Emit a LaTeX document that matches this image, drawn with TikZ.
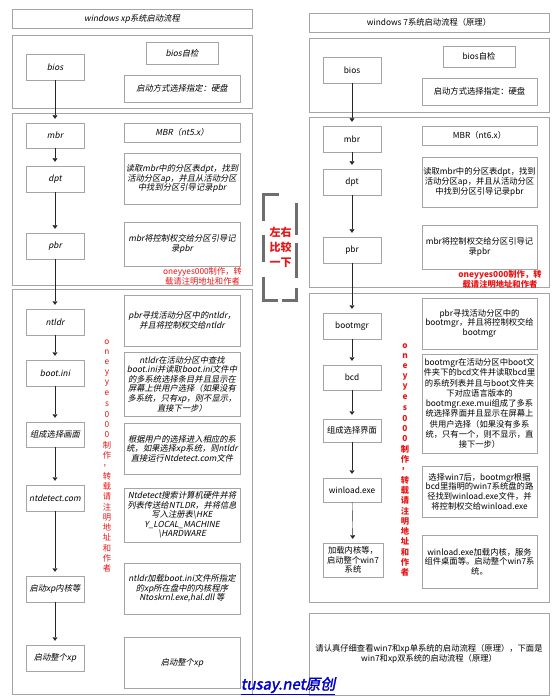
\documentclass[tikz,border=0pt]{standalone}
\usepackage{fontspec}
\setmainfont{Noto Sans CJK SC}
\newfontfamily\xpfont[FakeSlant=0.2]{Noto Sans CJK SC}
\newfontfamily\linkfont[FakeSlant=0.2,FakeBold=2]{Noto Sans CJK SC}
\usetikzlibrary{arrows.meta}
\definecolor{boxgray}{RGB}{165,165,165}
\definecolor{dashgray}{RGB}{110,110,110}
\definecolor{notered}{RGB}{235,20,20}
\definecolor{linkblue}{RGB}{0,0,205}
\tikzset{
  stepbox/.style={draw=boxgray,fill=white,align=center,inner sep=1pt,
    font=\fontsize{8.3}{9.6}\selectfont},
  xpbox/.style={stepbox,font=\fontsize{8.3}{9.6}\selectfont\xpfont},
  small/.style={minimum width=58pt,minimum height=26pt},
  wide/.style={minimum width=116pt},
  frame/.style={draw=boxgray},
  flow/.style={draw=black!85,-{Triangle[width=5pt,length=3.5pt]},shorten >=4pt},
  note/.style={text=notered,align=center,font=\fontsize{8.3}{10}\selectfont},
  bracket/.style={draw=dashgray,line width=3pt},
}
\begin{document}
\begin{tikzpicture}[x=1pt,y=-1pt]
  \useasboundingbox[fill=white] (0,0) rectangle (553,700);

  % windows xp
  \node[xpbox,minimum width=240pt,minimum height=19pt] (xtitle) at (132,18.5) {windows xp系统启动流程};
  \draw[frame] (12,35) rectangle (252,108);
  \draw[frame] (12,113) rectangle (252,285);
  \draw[frame] (12,289) rectangle (252,694);
  \node[xpbox,small] (xbios) at (55,67) {bios};
  \node[xpbox,minimum width=72pt,minimum height=22pt] (xself) at (182,53) {bios自检};
  \node[xpbox,wide,minimum height=27pt] (xdisk) at (182,88.5) {启动方式选择指定：硬盘};
  \node[xpbox,small,minimum height=25pt] (xmbr) at (55,135.5) {mbr};
  \node[xpbox,wide,minimum height=19pt] (xmbrinfo) at (182,132.5) {MBR（nt5.x）};
  \node[xpbox,small] (xdpt) at (55,179) {dpt};
  \node[xpbox,wide,minimum height=51pt,font=\fontsize{8.3}{8.4}\selectfont\xpfont] (xdptinfo) at (182,178.5)
    {读取mbr中的分区表dpt，找到\\活动分区ap，并且从活动分区\\中找到分区引导记录pbr};
  \node[xpbox,small] (xpbr) at (55,246) {pbr};
  \node[xpbox,wide,minimum height=44pt] (xpbrinfo) at (182,244) {mbr将控制权交给分区引导记\\录pbr};
  \node[note] (xnote) at (202.5,276) {oneyyes000制作，转\\载请注明地址和作者};
  \node[xpbox,small] (xntldr) at (55,322) {ntldr};
  \node[xpbox,wide,minimum height=51pt] (xntldrinfo) at (182,320.5) {pbr寻找活动分区中的ntldr，\\并且将控制权交给ntldr};
  \node[xpbox,small] (xboot) at (55,373) {boot.ini};
  \node[xpbox,wide,minimum height=64pt] (xbootinfo) at (182,384)
    {ntldr在活动分区中查找\\boot.ini并读取boot.ini文件中\\的多系统选择条目并且显示在\\屏幕上供用户选择（如果没有\\多系统，只有xp，则不显示，\\直接下一步）};
  \node[xpbox,small,minimum height=25pt] (xmenu) at (55,434.5) {组成选择画面};
  \node[xpbox,wide,minimum height=51pt] (xmenuinfo) at (182,448.5)
    {根据用户的选择进入相应的系\\统，如果选择xp系统，则ntldr\\直接运行Ntdetect.com文件};
  \node[xpbox,small] (xntdet) at (55,498) {ntdetect.com};
  \node[xpbox,wide,minimum height=54pt] (xntdetinfo) at (182,515)
    {Ntdetect搜索计算机硬件并将\\列表传送给NTLDR，并将信息\\写入注册表\textbackslash HKE\\Y\_LOCAL\_MACHINE\\\textbackslash HARDWARE};
  \node[xpbox,small] (xkernel) at (55,589) {启动xp内核等};
  \node[xpbox,wide,minimum height=51pt] (xkernelinfo) at (182,588.5)
    {ntldr加载boot.ini文件所指定\\的xp所在盘中的内核程序\\Ntoskrnl.exe,hal.dll 等};
  \node[xpbox,small] (xstart) at (55,658) {启动整个xp};
  \node[xpbox,wide,minimum height=51pt] (xstartinfo) at (182,662.5) {启动整个xp};
  \foreach \ch [count=\i from 0] in {o,n,e,y,y,e,s,0,0,0,制,作,，,转,载,请,注,明,地,址,和,作,者}
    \node[note,inner sep=0pt] (xv\i) at (107,342+10.3*\i) {\ch};
  \draw[flow] (xbios) -- (xmbr);
  \draw[flow] (xmbr) -- (xdpt);
  \draw[flow] (xdpt) -- (xpbr);
  \draw[flow] (xpbr) -- (xntldr);
  \draw[flow] (xntldr) -- (xboot);
  \draw[flow] (xboot) -- (xmenu);
  \draw[flow] (xmenu) -- (xntdet);
  \draw[flow] (xntdet) -- (xkernel);
  \draw[flow] (xkernel) -- (xstart);

  % compare mark
  \draw[bracket] (279,195) -- (263,195) -- (263,221);
  \draw[bracket] (263,235) -- (263,262);
  \draw[bracket] (263,277) -- (263,300) -- (278,300);
  \draw[bracket] (282,300) -- (296,300) -- (296,288);
  \draw[bracket] (296,278) -- (296,243);
  \draw[bracket] (296,235) -- (296,203);
  \node[text=notered,align=center,font=\fontsize{11}{15}\selectfont\bfseries] (cmp) at (280.5,247) {左右\\比较\\一下};

  % windows 7
  \node[stepbox,minimum width=240pt,minimum height=19pt] (wtitle) at (429,22.5) {windows 7系统启动流程（原理）};
  \draw[frame] (309,38) rectangle (549,112);
  \draw[frame] (309,117) rectangle (549,287);
  \draw[frame] (309,293) rectangle (549,602);
  \node[stepbox,small] (wbios) at (352,70) {bios};
  \node[stepbox,minimum width=72pt,minimum height=21pt] (wself) at (479,56.5) {bios自检};
  \node[stepbox,minimum width=115pt,minimum height=27pt] (wdisk) at (479.5,91.5) {启动方式选择指定：硬盘};
  \node[stepbox,small] (wmbr) at (352,139) {mbr};
  \node[stepbox,minimum width=115pt,minimum height=19pt] (wmbrinfo) at (479.5,135.5) {MBR（nt6.x）};
  \node[stepbox,small] (wdpt) at (352,182) {dpt};
  \node[stepbox,minimum width=115pt,minimum height=50pt] (wdptinfo) at (479.5,182)
    {读取mbr中的分区表dpt，找到\\活动分区ap，并且从活动分区\\中找到分区引导记录pbr};
  \node[stepbox,small] (wpbr) at (352,250) {pbr};
  \node[stepbox,minimum width=115pt,minimum height=44pt] (wpbrinfo) at (479.5,247) {mbr将控制权交给分区引导记\\录pbr};
  \node[note,font=\fontsize{8.3}{10}\selectfont\bfseries] (wnote) at (500,279) {oneyyes000制作，转\\载请注明地址和作者};
  \node[stepbox,small] (wbootmgr) at (352,326) {bootmgr};
  \node[stepbox,minimum width=115pt,minimum height=51pt] (wbootmgrinfo) at (479.5,323.5)
    {pbr寻找活动分区中的\\bootmgr，并且将控制权交给\\bootmgr};
  \node[stepbox,small,minimum height=25pt] (wbcd) at (352,377.5) {bcd};
  \node[stepbox,minimum width=115pt,minimum height=99pt,font=\fontsize{8.3}{10.3}\selectfont] (wbcdinfo) at (479.5,403.5)
    {bootmgr在活动分区中boot文\\件夹下的bcd文件并读取bcd里\\的系统列表并且与boot文件夹\\下对应语言版本的\\bootmgr.exe.mui组成了多系\\统选择界面并且显示在屏幕上\\供用户选择（如果没有多系\\统，只有一个，则不显示，直\\接下一步）};
  \node[stepbox,small,minimum height=23pt] (wmenu) at (352,430.5) {组成选择界面};
  \node[stepbox,minimum width=115pt,minimum height=51pt] (wloadinfo) at (479.5,491.5)
    {选择win7后，bootmgr根据\\bcd里指明的win7系统盘的路\\径找到winload.exe文件，并\\将控制权交给winload.exe};
  \node[stepbox,small,minimum height=24pt] (wwinload) at (352,490) {winload.exe};
  \node[stepbox,minimum width=60pt,minimum height=34pt] (wkernel) at (353,560) {加载内核等，\\启动整个win7\\系统};
  \node[stepbox,minimum width=115pt,minimum height=53pt] (wkernelinfo) at (479.5,561.5)
    {winload.exe加载内核，服务\\组件桌面等。启动整个win7系\\统。};
  \foreach \ch [count=\i from 0] in {o,n,e,y,y,e,s,0,0,0,制,作,，,转,载,请,注,明,地,址,和,作,者}
    \node[note,inner sep=0pt,font=\fontsize{8.3}{10}\selectfont\bfseries] (wv\i) at (405,346+10.3*\i) {\ch};
  \draw[flow] (wbios) -- (wmbr);
  \draw[flow] (wmbr) -- (wdpt);
  \draw[flow] (wdpt) -- (wpbr);
  \draw[flow] (wpbr) -- (wbootmgr);
  \draw[flow] (wbootmgr) -- (wbcd);
  \draw[flow] (wbcd) -- (wmenu);
  \draw[flow] (wmenu) -- (wwinload);
  \draw[flow] (wwinload) -- (wkernel);
  \node[stepbox,minimum width=240pt,minimum height=82pt,font=\fontsize{8.3}{9.3}\selectfont] (wsummary) at (429,654)
    {请认真仔细查看win7和xp单系统的启动流程（原理），下面是\\win7和xp双系统的启动流程（原理）};

  % source mark
  \node[text=linkblue,font=\fontsize{15}{15}\selectfont\linkfont,inner sep=0pt] (link) at (288,686) {\underline{tusay.net原创}};
\end{tikzpicture}
\end{document}
